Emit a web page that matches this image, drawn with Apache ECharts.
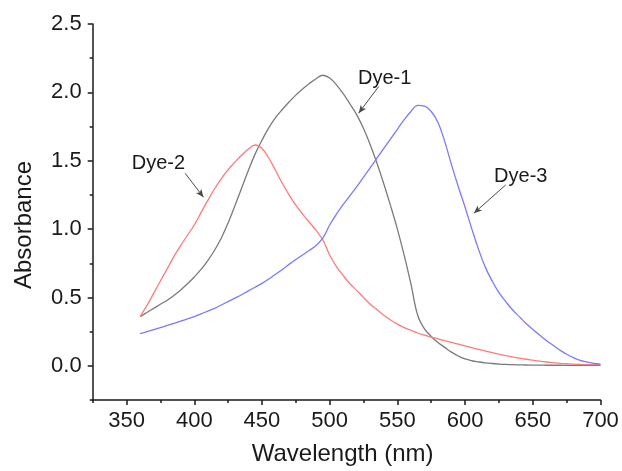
<!DOCTYPE html>
<html>
<head>
<meta charset="utf-8">
<script src="https://cdn.jsdelivr.net/npm/echarts@6/dist/echarts.min.js"></script>
<style>
  html, body { margin: 0; padding: 0; background: #ffffff; }
  #chart { width: 622px; height: 471px; }
</style>
</head>
<body>
<div id="chart"></div>
<script>
// Absorption spectra of three dyes, sampled every 5 nm from 360 to 700 nm
const wavelengths = [];
for (let w = 360; w <= 700; w += 5) wavelengths.push(w);

const dye1 = [
  0.36, 0.39, 0.42, 0.45, 0.48, 0.515, 0.555, 0.60, 0.65, 0.705,
  0.77, 0.845, 0.935, 1.045, 1.17, 1.30, 1.43, 1.55, 1.65, 1.74,
  1.815, 1.875, 1.93, 1.98, 2.025, 2.065, 2.10, 2.125, 2.105, 2.055,
  1.99, 1.915, 1.835, 1.735, 1.615, 1.48, 1.33, 1.17, 1.00, 0.81,
  0.60, 0.37, 0.27, 0.215, 0.17, 0.135, 0.10, 0.072, 0.05, 0.037,
  0.029, 0.022, 0.017, 0.013, 0.01, 0.008, 0.007, 0.006, 0.005, 0.005,
  0.004, 0.004, 0.004, 0.003, 0.003, 0.003, 0.003, 0.003, 0.003
];

const dye2 = [
  0.36, 0.44, 0.53, 0.62, 0.71, 0.80, 0.88, 0.955, 1.03, 1.12,
  1.21, 1.295, 1.37, 1.435, 1.49, 1.54, 1.585, 1.615, 1.59, 1.52,
  1.43, 1.335, 1.25, 1.175, 1.11, 1.05, 0.99, 0.92, 0.81, 0.725,
  0.66, 0.60, 0.55, 0.50, 0.45, 0.41, 0.37, 0.335, 0.305, 0.28,
  0.26, 0.24, 0.225, 0.21, 0.197, 0.184, 0.171, 0.158, 0.145, 0.133,
  0.12, 0.108, 0.096, 0.085, 0.075, 0.065, 0.056, 0.048, 0.041, 0.034,
  0.028, 0.023, 0.018, 0.015, 0.012, 0.01, 0.009, 0.008, 0.008
];

const dye3 = [
  0.235, 0.25, 0.265, 0.28, 0.295, 0.31, 0.327, 0.343, 0.36, 0.38,
  0.40, 0.42, 0.445, 0.47, 0.495, 0.52, 0.548, 0.575, 0.603, 0.635,
  0.67, 0.705, 0.742, 0.777, 0.81, 0.845, 0.88, 0.935, 1.03, 1.11,
  1.18, 1.245, 1.31, 1.38, 1.45, 1.52, 1.59, 1.66, 1.73, 1.80,
  1.86, 1.905, 1.90, 1.86, 1.78, 1.64, 1.47, 1.31, 1.16, 1.00,
  0.85, 0.72, 0.62, 0.535, 0.47, 0.41, 0.36, 0.31, 0.267, 0.225,
  0.185, 0.15, 0.115, 0.085, 0.06, 0.04, 0.028, 0.018, 0.013
];

// Axis ticks
const xMajorTicks = [350, 400, 450, 500, 550, 600, 650, 700];
const xMinorTicks = [325, 375, 425, 475, 525, 575, 625, 675];
const yMajorTicks = [0, 0.5, 1.0, 1.5, 2.0, 2.5];
const yMinorTicks = [-0.25, 0.25, 0.75, 1.25, 1.75, 2.25];

// Callout labels: [text, label position, arrow tail, arrow head]
const callouts = [
  ['Dye-1', [540.6, 2.104], [536.2, 2.043], [521.4, 1.848]],
  ['Dye-2', [373.5, 1.482], [393.3, 1.408], [406.8, 1.233]],
  ['Dye-3', [641.1, 1.384], [630.0, 1.323], [606.5, 1.116]]
];

const FONT = 'Liberation Sans, Arial, sans-serif';
const AXIS_COLOR = '#1a1a1a';

function pairs(ys) {
  return wavelengths.map((w, i) => [w, ys[i]]);
}

function spectrum(name, ys, color) {
  return {
    name: name,
    type: 'line',
    data: pairs(ys),
    xAxisIndex: 0,
    yAxisIndex: 0,
    showSymbol: false,
    smooth: 0.4,
    lineStyle: { color: color, width: 1.3 },
    itemStyle: { color: color },
    z: 3,
    silent: true
  };
}

const chart = echarts.init(document.getElementById('chart'), null, { renderer: 'canvas' });

const series = [
  spectrum('Dye-1', dye1, '#7a7a7a'),
  spectrum('Dye-2', dye2, '#ff7a7a'),
  spectrum('Dye-3', dye3, '#7a7aff')
];

// Callout arrows and texts
series.push({
  type: 'line',
  data: [],
  xAxisIndex: 0,
  yAxisIndex: 0,
  silent: true,
  z: 5,
  itemStyle: { color: '#222222' },
  markLine: {
    silent: true,
    animation: false,
    symbol: ['none', 'arrow'],
    symbolSize: 8,
    itemStyle: { color: '#222222' },
    lineStyle: { color: '#4a4a4a', width: 1, type: 'solid' },
    label: { show: false },
    data: callouts.map(c => [
      { coord: c[2], symbol: 'none' },
      { coord: c[3], symbol: 'arrow', symbolSize: [5, 8] }
    ])
  },
  markPoint: {
    silent: true,
    animation: false,
    symbol: 'circle',
    symbolSize: 1,
    itemStyle: { color: 'rgba(0,0,0,0)' },
    label: {
      show: true,
      position: 'inside',
      color: '#1a1a1a',
      fontFamily: FONT,
      fontSize: 20
    },
    data: callouts.map(c => ({ coord: c[1], value: c[0], label: { formatter: c[0] } }))
  }
});

const option = {
  backgroundColor: '#ffffff',
  animation: false,
  grid: { left: 92.7, right: 21.5, top: 24, bottom: 71, containLabel: false },
  xAxis: [
    {
      type: 'value',
      position: 'bottom',
      min: 325,
      max: 700,
      name: 'Wavelength (nm)',
      nameLocation: 'middle',
      nameGap: 42,
      nameTextStyle: { fontFamily: FONT, fontSize: 24, color: '#1a1a1a', padding: [0, 8, 0, 0] },
      axisLine: { show: true, onZero: false, lineStyle: { color: AXIS_COLOR, width: 1.5 } },
      axisTick: { show: true, inside: false, length: 5, customValues: xMajorTicks, lineStyle: { color: AXIS_COLOR, width: 1.5 } },
      axisLabel: { show: true, margin: 10, customValues: xMajorTicks, fontFamily: FONT, fontSize: 22, color: '#1a1a1a' },
      splitLine: { show: false }
    },
    {
      type: 'value',
      position: 'bottom',
      min: 325,
      max: 700,
      axisLine: { show: false, onZero: false },
      axisTick: { show: true, inside: false, length: 3, customValues: xMinorTicks, lineStyle: { color: AXIS_COLOR, width: 1.5 } },
      axisLabel: { show: false },
      splitLine: { show: false }
    }
  ],
  yAxis: [
    {
      type: 'value',
      position: 'left',
      min: -0.25,
      max: 2.5,
      name: 'Absorbance',
      nameLocation: 'middle',
      nameGap: 56,
      nameTextStyle: { fontFamily: FONT, fontSize: 24, color: '#1a1a1a', padding: [0, 26, 0, 0] },
      axisLine: { show: true, onZero: false, lineStyle: { color: AXIS_COLOR, width: 1.5 } },
      axisTick: { show: true, inside: false, length: 5, customValues: yMajorTicks, lineStyle: { color: AXIS_COLOR, width: 1.5 } },
      axisLabel: {
        show: true, margin: 11, customValues: yMajorTicks,
        fontFamily: FONT, fontSize: 22, color: '#1a1a1a',
        formatter: v => v.toFixed(1)
      },
      splitLine: { show: false }
    },
    {
      type: 'value',
      position: 'left',
      min: -0.25,
      max: 2.5,
      axisLine: { show: false, onZero: false },
      axisTick: { show: true, inside: false, length: 3, customValues: yMinorTicks, lineStyle: { color: AXIS_COLOR, width: 1.5 } },
      axisLabel: { show: false },
      splitLine: { show: false }
    }
  ],
  series: series
};

chart.setOption(option);
</script>
</body>
</html>
